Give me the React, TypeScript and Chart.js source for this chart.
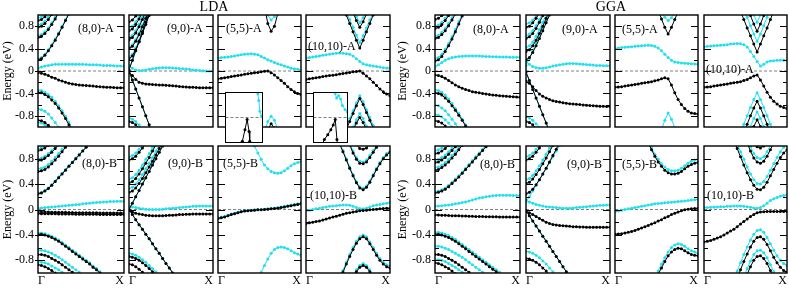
import React, { useEffect, useRef } from "react";
import { Chart, registerables } from "chart.js";

Chart.register(...registerables);

type Band = { c: "k" | "c"; from?: number; x?: number[]; y: number[] };

// k-point grid (Γ = 0, X = 1)
const K = [0, 0.04, 0.08, 0.12, 0.16, 0.2, 0.24, 0.28, 0.32, 0.36, 0.4, 0.44, 0.48, 0.52, 0.56, 0.6, 0.64, 0.68, 0.72, 0.76, 0.8, 0.84, 0.88, 0.92, 0.96, 1];
const Y_MAJOR = [-0.8, -0.4, 0, 0.4, 0.8];
const Y_MINOR = [-0.6, -0.2, 0.2, 0.6];
const Y_LABELS = ["-0.8", "-0.4", "0", "0.4", "0.8"];
const X_TICKS = [0, 1];
const X_LABELS = ["Γ", "X"];
const FERMI = 0;
const GROUP_TITLES = ["LDA", "GGA"];
const PANEL_NAMES = [
  ["(8,0)-A", "(9,0)-A", "(5,5)-A", "(10,10)-A"],
  ["(8,0)-B", "(9,0)-B", "(5,5)-B", "(10,10)-B"],
];

// ---------------- LDA ----------------
const LDA_80A: Band[] = [
  { c: "c", y: [0.05, 0.07, 0.09, 0.10, 0.11, 0.12, 0.12, 0.12, 0.12, 0.12, 0.12, 0.12, 0.12, 0.12, 0.115, 0.11, 0.11, 0.11, 0.105, 0.10, 0.10, 0.10, 0.095, 0.09, 0.09, 0.09] },
  { c: "k", y: [-0.03, -0.04, -0.06, -0.08, -0.11, -0.13, -0.16, -0.18, -0.20, -0.22, -0.23, -0.24, -0.25, -0.255, -0.26, -0.265, -0.27, -0.275, -0.28, -0.285, -0.29, -0.29, -0.295, -0.30, -0.30, -0.30] },
  { c: "k", y: [-0.38, -0.39, -0.42, -0.46, -0.52, -0.58, -0.66, -0.75, -0.85, -0.96, -1.08] },
  { c: "c", y: [-0.34, -0.35, -0.38, -0.42, -0.47, -0.54, -0.62, -0.71, -0.81, -0.92, -1.04] },
  { c: "c", y: [-0.68, -0.69, -0.72, -0.77, -0.84, -0.92, -1.01] },
  { c: "k", y: [-0.88, -0.89, -0.92, -0.97, -1.03] },
  { c: "c", y: [-0.92, -0.93, -0.96, -1.01] },
  { c: "k", y: [0.20, 0.22, 0.28, 0.36, 0.45, 0.55, 0.66, 0.78, 0.90, 1.02] },
  { c: "c", y: [0.22, 0.24, 0.30, 0.38, 0.47, 0.57, 0.68, 0.80, 0.92, 1.04] },
  { c: "k", y: [0.60, 0.62, 0.67, 0.74, 0.83, 0.93, 1.04] },
  { c: "c", y: [0.63, 0.65, 0.70, 0.77, 0.86, 0.96, 1.07] },
  { c: "k", y: [0.78, 0.80, 0.85, 0.92, 1.01] },
  { c: "c", y: [0.82, 0.84, 0.89, 0.96, 1.05] },
  { c: "k", y: [0.90, 0.92, 0.97, 1.04] },
  { c: "c", y: [0.95, 0.97, 1.02] },
];
const LDA_90A: Band[] = [
  { c: "c", y: [0.10, 0.05, 0.02, 0.01, 0.01, 0.02, 0.03, 0.04, 0.05, 0.055, 0.06, 0.06, 0.06, 0.055, 0.05, 0.045, 0.04, 0.035, 0.03, 0.02, 0.015, 0.01, 0.005, 0, 0, 0] },
  { c: "k", y: [-0.03, -0.08, -0.15, -0.20, -0.22, -0.23, -0.235, -0.24, -0.245, -0.25, -0.25, -0.255, -0.26, -0.265, -0.27, -0.275, -0.28, -0.285, -0.29, -0.29, -0.295, -0.30, -0.30, -0.30, -0.30, -0.30] },
  { c: "k", y: [0, -0.16, -0.32, -0.48, -0.64, -0.80, -0.96, -1.12] },
  { c: "c", y: [0, -0.16, -0.32, -0.48, -0.64, -0.80, -0.96, -1.12] },
  { c: "c", y: [0.02, 0.19, 0.36, 0.53, 0.70, 0.87, 1.04] },
  { c: "k", y: [0.02, 0.19, 0.36, 0.53, 0.70, 0.87, 1.04] },
  { c: "k", y: [0.22, 0.27, 0.38, 0.52, 0.67, 0.83, 0.99, 1.15] },
  { c: "c", y: [0.25, 0.30, 0.41, 0.55, 0.70, 0.86, 1.02] },
  { c: "k", y: [0.40, 0.44, 0.53, 0.65, 0.79, 0.94, 1.09] },
  { c: "c", y: [0.43, 0.47, 0.56, 0.68, 0.82, 0.97, 1.12] },
  { c: "k", y: [0.56, 0.60, 0.68, 0.79, 0.92, 1.06] },
  { c: "c", y: [0.60, 0.64, 0.72, 0.83, 0.96, 1.10] },
  { c: "k", y: [0.72, 0.75, 0.83, 0.93, 1.05] },
  { c: "c", y: [0.77, 0.80, 0.88, 0.98, 1.10] },
  { c: "k", y: [0.88, 0.91, 0.98, 1.08] },
  { c: "c", y: [-0.84, -0.86, -0.90, -0.96, -1.03] },
  { c: "k", y: [-0.90, -0.92, -0.96, -1.02] },
];
const LDA_55A: Band[] = [
  { c: "c", y: [0.23, 0.24, 0.245, 0.25, 0.26, 0.27, 0.28, 0.29, 0.30, 0.305, 0.31, 0.30, 0.29, 0.26, 0.23, 0.20, 0.18, 0.15, 0.13, 0.11, 0.09, 0.07, 0.05, 0.04, 0.03, 0.02] },
  { c: "k", y: [-0.14, -0.13, -0.12, -0.11, -0.10, -0.09, -0.08, -0.07, -0.06, -0.05, -0.04, -0.03, -0.025, -0.015, -0.005, 0, -0.03, -0.07, -0.12, -0.17, -0.22, -0.28, -0.33, -0.37, -0.40, -0.42] },
  { c: "k", from: 14, y: [1.15, 0.85, 0.71, 0.80, 1.02] },
  { c: "c", from: 14, y: [1.2, 1.0, 0.91, 0.97, 1.1] },
  { c: "c", from: 14, y: [-1.1, -0.9, -0.81, -0.88, -1.05] },
  { c: "k", from: 15, y: [-1.05, -0.94, -1.02] },
];
const LDA_1010A: Band[] = [
  { c: "c", y: [0.23, 0.24, 0.25, 0.26, 0.27, 0.28, 0.29, 0.30, 0.31, 0.315, 0.32, 0.315, 0.31, 0.30, 0.27, 0.22, 0.17, 0.13, 0.11, 0.10, 0.09, 0.08, 0.07, 0.06, 0.055, 0.05] },
  { c: "k", y: [-0.15, -0.14, -0.13, -0.12, -0.11, -0.10, -0.09, -0.08, -0.075, -0.065, -0.055, -0.045, -0.035, -0.025, -0.015, -0.01, 0, -0.04, -0.09, -0.14, -0.20, -0.26, -0.32, -0.37, -0.41, -0.44] },
  { c: "k", from: 12, y: [1.0, 0.85, 0.70, 0.55, 0.41, 0.55, 0.70, 0.85, 1.0] },
  { c: "c", from: 12, y: [1.06, 0.92, 0.78, 0.64, 0.51, 0.63, 0.77, 0.91, 1.05] },
  { c: "k", from: 14, y: [1.05, 0.90, 0.78, 0.88, 1.02] },
  { c: "c", from: 14, y: [1.1, 0.97, 0.86, 0.95, 1.08] },
  { c: "k", from: 12, y: [-1.05, -0.90, -0.76, -0.62, -0.49, -0.60, -0.74, -0.88, -1.02] },
  { c: "c", from: 12, y: [-1.0, -0.85, -0.71, -0.57, -0.44, -0.55, -0.69, -0.83, -0.97, -1.1] },
  { c: "k", from: 14, y: [-1.05, -0.93, -0.83, -0.92, -1.04] },
  { c: "c", from: 14, y: [-1.0, -0.87, -0.76, -0.85, -0.98] },
];
const LDA_80B: Band[] = [
  { c: "c", y: [0.02, 0.025, 0.03, 0.035, 0.04, 0.045, 0.05, 0.055, 0.06, 0.065, 0.07, 0.075, 0.08, 0.09, 0.095, 0.10, 0.105, 0.11, 0.115, 0.12, 0.12, 0.125, 0.125, 0.13, 0.13, 0.13] },
  { c: "k", y: [-0.04, -0.04, -0.04, -0.04, -0.042, -0.043, -0.045, -0.045, -0.045, -0.047, -0.048, -0.05, -0.05, -0.05, -0.051, -0.052, -0.053, -0.053, -0.054, -0.055, -0.055, -0.055, -0.055, -0.055, -0.055, -0.055] },
  { c: "k", y: [-0.065, -0.065, -0.065, -0.066, -0.067, -0.068, -0.07, -0.07, -0.07, -0.071, -0.072, -0.073, -0.073, -0.074, -0.075, -0.075, -0.076, -0.076, -0.077, -0.077, -0.078, -0.078, -0.078, -0.078, -0.078, -0.078] },
  { c: "k", y: [-0.39, -0.39, -0.40, -0.42, -0.44, -0.47, -0.50, -0.54, -0.58, -0.62, -0.66, -0.70, -0.74, -0.78, -0.82, -0.86, -0.91, -0.95, -1.0, -1.05] },
  { c: "c", y: [-0.37, -0.37, -0.38, -0.40, -0.42, -0.45, -0.48, -0.52, -0.56, -0.60, -0.64, -0.68, -0.72, -0.76, -0.80, -0.84, -0.89, -0.93, -0.98, -1.03] },
  { c: "c", y: [-0.64, -0.64, -0.65, -0.67, -0.69, -0.72, -0.75, -0.79, -0.83, -0.87, -0.91, -0.95, -0.99, -1.03] },
  { c: "k", y: [-0.71, -0.71, -0.72, -0.74, -0.77, -0.80, -0.83, -0.87, -0.91, -0.95, -0.99, -1.03] },
  { c: "c", y: [-0.82, -0.83, -0.84, -0.86, -0.89, -0.92, -0.95, -0.99, -1.03] },
  { c: "k", y: [-0.87, -0.88, -0.90, -0.93, -0.96, -1.0, -1.04] },
  { c: "c", y: [0.26, 0.27, 0.30, 0.34, 0.39, 0.45, 0.51, 0.57, 0.63, 0.69, 0.75, 0.81, 0.87, 0.93, 0.99, 1.05] },
  { c: "k", y: [0.25, 0.26, 0.29, 0.33, 0.38, 0.44, 0.50, 0.56, 0.62, 0.68, 0.74, 0.80, 0.86, 0.92, 0.98, 1.04] },
  { c: "k", y: [0.60, 0.61, 0.63, 0.67, 0.72, 0.78, 0.84, 0.91, 0.98, 1.05] },
  { c: "c", y: [0.64, 0.65, 0.67, 0.71, 0.76, 0.82, 0.88, 0.95, 1.02] },
  { c: "k", y: [0.77, 0.78, 0.81, 0.85, 0.90, 0.96, 1.02] },
  { c: "c", y: [0.80, 0.81, 0.84, 0.88, 0.93, 0.99, 1.05] },
  { c: "k", y: [0.93, 0.94, 0.97, 1.01] },
  { c: "c", y: [0.96, 0.97, 1.0, 1.04] },
];
const LDA_90B: Band[] = [
  { c: "c", y: [0.05, 0.04, 0.03, 0.02, 0.01, 0.005, 0, 0, 0, 0, 0.005, 0.01, 0.015, 0.02, 0.025, 0.03, 0.035, 0.04, 0.045, 0.05, 0.05, 0.055, 0.055, 0.055, 0.055, 0.055] },
  { c: "k", y: [-0.02, -0.04, -0.06, -0.07, -0.08, -0.09, -0.095, -0.10, -0.10, -0.10, -0.10, -0.095, -0.09, -0.09, -0.085, -0.08, -0.08, -0.075, -0.075, -0.07, -0.07, -0.07, -0.07, -0.07, -0.07, -0.07] },
  { c: "k", y: [0, -0.08, -0.16, -0.24, -0.31, -0.39, -0.46, -0.54, -0.62, -0.69, -0.77, -0.85, -0.92, -1.0, -1.08] },
  { c: "c", y: [0, -0.08, -0.16, -0.24, -0.31, -0.39, -0.46, -0.54, -0.62, -0.69, -0.77, -0.85, -0.92, -1.0, -1.08] },
  { c: "c", y: [0.0, 0.10, 0.20, 0.30, 0.40, 0.50, 0.60, 0.70, 0.80, 0.90, 1.0, 1.1] },
  { c: "k", y: [0.0, 0.10, 0.20, 0.30, 0.40, 0.50, 0.60, 0.70, 0.80, 0.90, 1.0, 1.1] },
  { c: "k", y: [0.27, 0.29, 0.34, 0.41, 0.49, 0.58, 0.67, 0.76, 0.86, 0.96, 1.06] },
  { c: "c", y: [0.33, 0.35, 0.40, 0.47, 0.55, 0.64, 0.73, 0.82, 0.92, 1.02] },
  { c: "k", y: [0.42, 0.44, 0.49, 0.56, 0.64, 0.73, 0.82, 0.92, 1.02] },
  { c: "c", y: [0.48, 0.50, 0.55, 0.62, 0.70, 0.79, 0.88, 0.98, 1.08] },
  { c: "k", y: [0.78, 0.80, 0.84, 0.90, 0.97, 1.05] },
  { c: "c", y: [0.83, 0.85, 0.89, 0.95, 1.02] },
  { c: "c", y: [-0.69, -0.70, -0.72, -0.75, -0.79, -0.83, -0.88, -0.93, -0.98, -1.03] },
  { c: "k", y: [-0.74, -0.75, -0.77, -0.80, -0.84, -0.88, -0.93, -0.98, -1.03] },
  { c: "k", y: [-0.86, -0.87, -0.90, -0.94, -0.99, -1.04] },
];
const LDA_55B: Band[] = [
  { c: "k", y: [-0.14, -0.13, -0.12, -0.10, -0.08, -0.065, -0.05, -0.035, -0.025, -0.02, -0.015, -0.01, -0.005, -0.005, 0, 0.005, 0.01, 0.015, 0.02, 0.03, 0.04, 0.05, 0.06, 0.07, 0.08, 0.09] },
  { c: "c", y: [-0.13, -0.12, -0.11, -0.09, -0.07, -0.06, -0.045, -0.03, -0.02, -0.015, -0.01, -0.005, 0, 0, 0.005, 0.01, 0.015, 0.02, 0.03, 0.04, 0.05, 0.06, 0.07, 0.08, 0.09, 0.10] },
  { c: "c", from: 10, y: [1.12, 1.0, 0.89, 0.79, 0.70, 0.64, 0.60, 0.58, 0.57, 0.58, 0.61, 0.65, 0.69, 0.72, 0.74, 0.75] },
  { c: "c", from: 12, y: [-1.08, -0.99, -0.88, -0.78, -0.69, -0.63, -0.60, -0.59, -0.60, -0.62, -0.65, -0.68, -0.70, -0.72] },
];
const LDA_1010B: Band[] = [
  { c: "c", y: [-0.02, -0.01, 0, 0.01, 0.02, 0.03, 0.04, 0.05, 0.055, 0.06, 0.065, 0.07, 0.07, 0.065, 0.05, 0.03, 0.015, 0.01, 0.02, 0.04, 0.06, 0.07, 0.08, 0.09, 0.10, 0.11] },
  { c: "k", y: [-0.22, -0.21, -0.20, -0.19, -0.18, -0.165, -0.15, -0.135, -0.12, -0.105, -0.09, -0.075, -0.06, -0.05, -0.04, -0.03, -0.02, -0.015, -0.01, -0.005, 0, 0.005, 0.01, 0.015, 0.02, 0.02] },
  { c: "c", from: 10, y: [1.05, 0.93, 0.80, 0.67, 0.55, 0.44, 0.36, 0.33, 0.37, 0.45, 0.55, 0.65, 0.74, 0.82, 0.88, 0.92] },
  { c: "k", from: 10, y: [1.03, 0.91, 0.78, 0.65, 0.53, 0.42, 0.34, 0.31, 0.35, 0.43, 0.53, 0.63, 0.72, 0.80, 0.86, 0.90] },
  { c: "c", from: 13, y: [1.05, 0.92, 0.82, 0.76, 0.75, 0.78, 0.85, 0.93, 1.01] },
  { c: "k", from: 13, y: [1.02, 0.89, 0.79, 0.73, 0.72, 0.75, 0.82, 0.90, 0.98, 1.06] },
  { c: "k", from: 15, y: [1.02, 0.96, 0.95, 0.97, 1.03] },
  { c: "c", from: 10, y: [-1.08, -0.96, -0.83, -0.71, -0.60, -0.50, -0.43, -0.40, -0.43, -0.51, -0.60, -0.69, -0.77, -0.83, -0.87, -0.89] },
  { c: "k", from: 10, y: [-1.11, -0.99, -0.86, -0.74, -0.63, -0.53, -0.46, -0.43, -0.46, -0.54, -0.63, -0.72, -0.80, -0.86, -0.90, -0.92] },
  { c: "c", from: 14, y: [-1.05, -0.95, -0.88, -0.85, -0.88, -0.95, -1.03] },
  { c: "k", from: 14, y: [-1.08, -0.98, -0.91, -0.88, -0.91, -0.98, -1.06] },
];

// ---------------- GGA ----------------
const GGA_80A: Band[] = [
  { c: "c", y: [0.08, 0.11, 0.15, 0.19, 0.22, 0.24, 0.25, 0.26, 0.265, 0.27, 0.27, 0.27, 0.27, 0.27, 0.265, 0.26, 0.26, 0.255, 0.255, 0.25, 0.25, 0.25, 0.245, 0.245, 0.245, 0.245] },
  { c: "k", y: [-0.07, -0.08, -0.10, -0.13, -0.17, -0.21, -0.25, -0.28, -0.31, -0.33, -0.35, -0.37, -0.38, -0.39, -0.40, -0.41, -0.42, -0.43, -0.435, -0.44, -0.445, -0.45, -0.455, -0.46, -0.465, -0.47] },
  { c: "k", y: [-0.39, -0.40, -0.43, -0.48, -0.54, -0.62, -0.70, -0.79, -0.88, -0.98, -1.08] },
  { c: "c", y: [-0.34, -0.35, -0.38, -0.43, -0.50, -0.58, -0.67, -0.76, -0.86, -0.96, -1.06] },
  { c: "c", y: [-0.61, -0.62, -0.66, -0.71, -0.78, -0.86, -0.94, -1.03] },
  { c: "c", y: [-0.78, -0.79, -0.82, -0.87, -0.93, -1.0] },
  { c: "k", y: [-0.89, -0.90, -0.93, -0.98, -1.04] },
  { c: "k", y: [0.18, 0.20, 0.26, 0.35, 0.45, 0.57, 0.70, 0.84, 0.98, 1.12] },
  { c: "c", y: [0.22, 0.24, 0.30, 0.39, 0.49, 0.61, 0.74, 0.88, 1.02] },
  { c: "k", y: [0.58, 0.60, 0.65, 0.72, 0.81, 0.91, 1.02] },
  { c: "c", y: [0.62, 0.64, 0.69, 0.76, 0.85, 0.95, 1.06] },
  { c: "k", y: [0.76, 0.78, 0.83, 0.90, 0.99, 1.09] },
  { c: "c", y: [0.80, 0.82, 0.87, 0.94, 1.03] },
  { c: "k", y: [0.92, 0.94, 0.99, 1.06] },
];
const GGA_90A: Band[] = [
  { c: "c", y: [0.17, 0.12, 0.08, 0.06, 0.05, 0.05, 0.06, 0.07, 0.09, 0.10, 0.11, 0.12, 0.13, 0.135, 0.135, 0.13, 0.125, 0.12, 0.115, 0.11, 0.105, 0.10, 0.10, 0.095, 0.095, 0.095] },
  { c: "k", y: [-0.18, -0.22, -0.28, -0.35, -0.41, -0.45, -0.48, -0.51, -0.53, -0.545, -0.555, -0.565, -0.575, -0.585, -0.59, -0.595, -0.60, -0.605, -0.61, -0.615, -0.62, -0.625, -0.63, -0.63, -0.635, -0.635] },
  { c: "k", y: [-0.02, -0.17, -0.33, -0.48, -0.63, -0.78, -0.93, -1.08] },
  { c: "c", y: [-0.02, -0.17, -0.33, -0.48, -0.63, -0.78, -0.93, -1.08] },
  { c: "c", y: [0.10, 0.22, 0.36, 0.50, 0.64, 0.78, 0.92, 1.06] },
  { c: "k", y: [0.20, 0.24, 0.33, 0.45, 0.58, 0.72, 0.86, 1.0, 1.14] },
  { c: "k", y: [0.35, 0.38, 0.45, 0.55, 0.67, 0.80, 0.94, 1.08] },
  { c: "c", y: [0.42, 0.45, 0.52, 0.62, 0.74, 0.87, 1.01] },
  { c: "k", y: [0.58, 0.61, 0.67, 0.76, 0.87, 0.99, 1.11] },
  { c: "c", y: [0.63, 0.66, 0.72, 0.81, 0.92, 1.04] },
  { c: "k", y: [0.78, 0.80, 0.86, 0.94, 1.04] },
  { c: "c", y: [0.84, 0.86, 0.91, 0.99, 1.08] },
  { c: "c", y: [-0.82, -0.84, -0.88, -0.94, -1.01] },
  { c: "k", y: [-0.90, -0.92, -0.96, -1.02] },
];
const GGA_55A: Band[] = [
  { c: "c", y: [0.40, 0.41, 0.42, 0.425, 0.43, 0.435, 0.44, 0.445, 0.45, 0.455, 0.46, 0.455, 0.44, 0.41, 0.36, 0.30, 0.24, 0.19, 0.16, 0.15, 0.145, 0.14, 0.135, 0.13, 0.125, 0.12] },
  { c: "k", y: [-0.29, -0.285, -0.28, -0.27, -0.26, -0.25, -0.24, -0.23, -0.22, -0.21, -0.20, -0.19, -0.175, -0.16, -0.14, -0.12, -0.14, -0.25, -0.39, -0.51, -0.60, -0.67, -0.72, -0.75, -0.76, -0.77] },
  { c: "k", from: 13, y: [1.1, 0.93, 0.78, 0.66, 0.78, 0.92, 1.06] },
  { c: "c", from: 14, y: [1.06, 0.96, 0.90, 0.95, 1.04] },
  { c: "c", from: 14, y: [-1.05, -0.88, -0.75, -0.86, -1.02] },
];
const GGA_1010A: Band[] = [
  { c: "c", y: [0.43, 0.44, 0.445, 0.45, 0.455, 0.46, 0.465, 0.47, 0.48, 0.485, 0.49, 0.485, 0.47, 0.43, 0.35, 0.26, 0.17, 0.09, 0.12, 0.16, 0.18, 0.185, 0.19, 0.19, 0.19, 0.19] },
  { c: "k", y: [-0.29, -0.285, -0.28, -0.27, -0.26, -0.25, -0.24, -0.23, -0.22, -0.21, -0.20, -0.19, -0.17, -0.15, -0.12, -0.09, -0.07, -0.16, -0.27, -0.38, -0.47, -0.54, -0.59, -0.63, -0.65, -0.67] },
  { c: "k", from: 11, y: [1.07, 0.92, 0.77, 0.63, 0.48, 0.34, 0.48, 0.63, 0.77, 0.92, 1.07] },
  { c: "c", from: 12, y: [1.1, 0.96, 0.81, 0.66, 0.53, 0.66, 0.81, 0.96, 1.1] },
  { c: "k", from: 13, y: [1.14, 0.99, 0.84, 0.71, 0.84, 0.99, 1.14] },
  { c: "c", from: 14, y: [1.15, 1.0, 0.87, 1.0, 1.15] },
  { c: "c", from: 11, y: [-1.1, -0.95, -0.80, -0.65, -0.51, -0.39, -0.51, -0.65, -0.80, -0.95, -1.1] },
  { c: "k", from: 12, y: [-1.1, -0.95, -0.80, -0.66, -0.54, -0.66, -0.80, -0.95, -1.1] },
  { c: "c", from: 13, y: [-1.14, -0.99, -0.85, -0.73, -0.85, -0.99, -1.14] },
  { c: "k", from: 14, y: [-1.13, -0.99, -0.87, -0.99, -1.13] },
];
const GGA_80B: Band[] = [
  { c: "c", y: [0.055, 0.055, 0.06, 0.065, 0.07, 0.08, 0.09, 0.10, 0.11, 0.12, 0.135, 0.15, 0.165, 0.18, 0.19, 0.20, 0.21, 0.215, 0.22, 0.225, 0.225, 0.225, 0.225, 0.22, 0.22, 0.215] },
  { c: "k", y: [-0.085, -0.087, -0.09, -0.092, -0.095, -0.097, -0.10, -0.10, -0.102, -0.104, -0.106, -0.108, -0.11, -0.11, -0.112, -0.113, -0.114, -0.115, -0.116, -0.117, -0.118, -0.119, -0.12, -0.12, -0.12, -0.12] },
  { c: "k", y: [-0.39, -0.39, -0.40, -0.42, -0.44, -0.47, -0.50, -0.54, -0.58, -0.62, -0.66, -0.70, -0.74, -0.78, -0.82, -0.86, -0.90, -0.94, -0.98, -1.02] },
  { c: "c", y: [-0.36, -0.36, -0.37, -0.39, -0.41, -0.44, -0.47, -0.51, -0.55, -0.59, -0.63, -0.67, -0.71, -0.75, -0.79, -0.83, -0.87, -0.91, -0.95, -0.99, -1.03] },
  { c: "c", y: [-0.58, -0.58, -0.59, -0.61, -0.63, -0.66, -0.69, -0.72, -0.75, -0.79, -0.83, -0.87, -0.91, -0.95, -0.99, -1.03] },
  { c: "k", y: [-0.71, -0.71, -0.72, -0.74, -0.77, -0.80, -0.83, -0.87, -0.91, -0.95, -0.99, -1.03] },
  { c: "c", y: [-0.79, -0.79, -0.80, -0.82, -0.85, -0.88, -0.91, -0.95, -0.99, -1.03] },
  { c: "k", y: [-0.84, -0.85, -0.87, -0.90, -0.93, -0.97, -1.01] },
  { c: "c", y: [0.28, 0.29, 0.31, 0.34, 0.38, 0.43, 0.48, 0.53, 0.59, 0.65, 0.71, 0.77, 0.83, 0.89, 0.95, 1.01] },
  { c: "k", y: [0.26, 0.27, 0.29, 0.32, 0.36, 0.41, 0.46, 0.51, 0.57, 0.63, 0.69, 0.75, 0.81, 0.87, 0.93, 0.99, 1.05] },
  { c: "k", y: [0.62, 0.63, 0.66, 0.70, 0.75, 0.81, 0.87, 0.94, 1.01] },
  { c: "c", y: [0.66, 0.67, 0.70, 0.74, 0.79, 0.85, 0.91, 0.98, 1.05] },
  { c: "k", y: [0.74, 0.75, 0.78, 0.82, 0.87, 0.93, 0.99, 1.06] },
  { c: "c", y: [0.78, 0.79, 0.82, 0.86, 0.91, 0.97, 1.03] },
  { c: "k", y: [0.88, 0.89, 0.92, 0.96, 1.01] },
  { c: "c", y: [0.93, 0.94, 0.97, 1.01] },
];
const GGA_90B: Band[] = [
  { c: "c", y: [0.15, 0.12, 0.10, 0.08, 0.065, 0.055, 0.045, 0.04, 0.035, 0.03, 0.025, 0.02, 0.02, 0.02, 0.025, 0.03, 0.035, 0.04, 0.045, 0.05, 0.055, 0.06, 0.065, 0.065, 0.07, 0.07] },
  { c: "k", y: [-0.03, -0.05, -0.08, -0.11, -0.14, -0.17, -0.20, -0.22, -0.235, -0.245, -0.25, -0.255, -0.26, -0.265, -0.27, -0.27, -0.275, -0.275, -0.28, -0.28, -0.28, -0.28, -0.28, -0.28, -0.28, -0.28] },
  { c: "k", y: [-0.02, -0.10, -0.18, -0.26, -0.34, -0.42, -0.50, -0.58, -0.66, -0.74, -0.82, -0.90, -0.98, -1.06] },
  { c: "c", y: [-0.02, -0.10, -0.18, -0.26, -0.34, -0.42, -0.50, -0.58, -0.66, -0.74, -0.82, -0.90, -0.98, -1.06] },
  { c: "c", y: [0.12, 0.20, 0.29, 0.38, 0.47, 0.56, 0.65, 0.74, 0.83, 0.92, 1.01] },
  { c: "k", y: [0.25, 0.27, 0.32, 0.39, 0.47, 0.56, 0.65, 0.75, 0.85, 0.95, 1.05] },
  { c: "k", y: [0.41, 0.43, 0.48, 0.55, 0.63, 0.72, 0.81, 0.91, 1.01] },
  { c: "c", y: [0.47, 0.49, 0.54, 0.61, 0.69, 0.78, 0.87, 0.97, 1.07] },
  { c: "k", y: [0.78, 0.80, 0.84, 0.90, 0.97, 1.05] },
  { c: "c", y: [0.83, 0.85, 0.89, 0.95, 1.02] },
  { c: "c", y: [-0.66, -0.67, -0.69, -0.72, -0.76, -0.81, -0.86, -0.92, -0.98, -1.04] },
  { c: "k", y: [-0.77, -0.78, -0.80, -0.83, -0.87, -0.92, -0.97, -1.03] },
];
const GGA_55B: Band[] = [
  { c: "c", y: [-0.035, -0.025, -0.01, 0, 0.01, 0.02, 0.03, 0.04, 0.05, 0.06, 0.07, 0.08, 0.09, 0.095, 0.10, 0.105, 0.11, 0.115, 0.12, 0.125, 0.13, 0.135, 0.14, 0.15, 0.155, 0.16] },
  { c: "k", y: [-0.39, -0.385, -0.38, -0.37, -0.36, -0.345, -0.33, -0.31, -0.29, -0.27, -0.25, -0.23, -0.21, -0.18, -0.16, -0.13, -0.11, -0.08, -0.06, -0.04, -0.02, -0.005, 0.005, 0.01, 0.015, 0.02] },
  { c: "c", from: 10, y: [1.08, 0.97, 0.87, 0.79, 0.72, 0.67, 0.63, 0.61, 0.61, 0.62, 0.65, 0.69, 0.73, 0.76, 0.78, 0.79] },
  { c: "k", from: 10, y: [1.05, 0.94, 0.84, 0.75, 0.68, 0.62, 0.58, 0.56, 0.56, 0.57, 0.60, 0.64, 0.68, 0.71, 0.73, 0.74] },
  { c: "c", from: 12, y: [-1.07, -0.97, -0.86, -0.76, -0.67, -0.60, -0.56, -0.54, -0.55, -0.58, -0.62, -0.65, -0.67, -0.69] },
  { c: "k", from: 12, y: [-1.12, -1.02, -0.92, -0.82, -0.73, -0.67, -0.63, -0.61, -0.62, -0.65, -0.68, -0.71, -0.72, -0.73] },
];
const GGA_1010B: Band[] = [
  { c: "c", y: [0.03, 0.03, 0.035, 0.04, 0.04, 0.045, 0.045, 0.05, 0.05, 0.055, 0.055, 0.055, 0.05, 0.045, 0.035, 0.025, 0.02, 0.03, 0.06, 0.10, 0.14, 0.17, 0.19, 0.21, 0.22, 0.23] },
  { c: "k", y: [-0.51, -0.50, -0.49, -0.47, -0.45, -0.43, -0.40, -0.37, -0.34, -0.31, -0.27, -0.23, -0.19, -0.15, -0.11, -0.08, -0.05, -0.04, -0.035, -0.03, -0.03, -0.03, -0.03, -0.03, -0.03, -0.03] },
  { c: "k", from: 9, y: [1.08, 0.96, 0.83, 0.70, 0.58, 0.47, 0.38, 0.32, 0.31, 0.35, 0.43, 0.53, 0.63, 0.73, 0.82, 0.89, 0.94] },
  { c: "c", from: 10, y: [1.04, 0.91, 0.79, 0.67, 0.56, 0.47, 0.41, 0.40, 0.44, 0.52, 0.62, 0.72, 0.82, 0.91, 0.98, 1.03] },
  { c: "k", from: 13, y: [1.05, 0.92, 0.81, 0.75, 0.73, 0.76, 0.84, 0.94, 1.05] },
  { c: "c", from: 13, y: [1.12, 0.99, 0.88, 0.82, 0.80, 0.83, 0.91, 1.01] },
  { c: "k", from: 15, y: [1.06, 0.99, 0.97, 1.0, 1.08] },
  { c: "c", from: 9, y: [-1.1, -0.97, -0.84, -0.71, -0.59, -0.48, -0.39, -0.33, -0.32, -0.36, -0.44, -0.54, -0.64, -0.73, -0.80, -0.85, -0.88] },
  { c: "k", from: 10, y: [-1.08, -0.95, -0.82, -0.70, -0.59, -0.50, -0.44, -0.43, -0.47, -0.55, -0.65, -0.75, -0.84, -0.91, -0.96, -0.99] },
  { c: "c", from: 12, y: [-1.06, -0.93, -0.81, -0.71, -0.65, -0.64, -0.68, -0.76, -0.87, -0.98, -1.09] },
  { c: "k", from: 13, y: [-1.02, -0.90, -0.80, -0.74, -0.73, -0.77, -0.85, -0.96, -1.07] },
];

// insets (zoomed views near the Fermi level, normalised axes)
const INSET_55A: Band[] = [
  { c: "k", x: [0.40, 0.456, 0.526, 0.585, 0.637, 0.655, 0.68], y: [-1.3, -0.95, -0.49, -0.08, -0.56, -0.95, -1.35] },
  { c: "c", x: [0.86, 0.875, 0.90, 0.93, 0.975, 1.0], y: [1.1, 0.95, 0.68, 0.25, 0.06, 0.03] },
];
const INSET_1010A: Band[] = [
  { c: "k", x: [0.25, 0.32, 0.42, 0.51, 0.58, 0.64, 0.69, 0.72], y: [-1.1, -0.88, -0.69, -0.49, -0.30, -0.08, -0.88, -1.4] },
  { c: "c", x: [0.63, 0.64, 0.68, 0.74, 0.80, 0.85, 0.93, 1.0], y: [1.1, 0.96, 0.78, 0.87, 0.74, 0.48, 0.31, 0.22] },
];

const GROUP_BANDS: Band[][][][] = [
  [[LDA_80A, LDA_90A, LDA_55A, LDA_1010A], [LDA_80B, LDA_90B, LDA_55B, LDA_1010B]],
  [[GGA_80A, GGA_90A, GGA_55A, GGA_1010A], [GGA_80B, GGA_90B, GGA_55B, GGA_1010B]],
];

// ---------------- layout / style ----------------
const COL_LEFTS = [[38, 127, 216, 304], [435, 524, 613, 702]];
const COL_WIDTHS = [[86, 86, 85, 86], [85, 86, 85, 85]];
const ROW_TOPS = [15, 146];
const ROW_HEIGHTS = [128, 127];
const GROUP_MARGIN = [38, 40];
const GROUP_CENTERS = [214, 611];
const LABEL_POS = [
  [[[78, 28], [167, 28], [226, 28], [308, 46]], [[82, 163], [168, 163], [223, 163], [310, 195]]],
  [[[473, 29], [562, 29], [622, 29], [706, 69]], [[480, 164], [567, 164], [622, 164], [707, 195]]],
];
const INSETS = [
  { left: 225, top: 92, w: 38, h: 51, bands: INSET_55A },
  { left: 313, top: 92, w: 35, h: 51, bands: INSET_1010A },
];

const CYAN = "#22dfec";
const BLACK = "#000000";
const DASH = "#808080";
const FONT = "'Liberation Serif', 'Times New Roman', serif";

const framePlugin = {
  id: "panelFrame",
  beforeDatasetsDraw(chart: any, _args: any, opts: any) {
    if (!opts || !opts.fill) return;
    const a = chart.chartArea;
    const ctx = chart.ctx;
    ctx.save();
    ctx.fillStyle = "#ffffff";
    ctx.fillRect(a.left, a.top, a.right - a.left, a.bottom - a.top);
    ctx.restore();
  },
  afterDatasetsDraw(chart: any, _args: any, opts: any) {
    const a = chart.chartArea;
    const ctx = chart.ctx;
    const ys = chart.scales.y;
    ctx.save();
    ctx.strokeStyle = "#000";
    if (opts && opts.ticks) {
      ctx.lineWidth = 1;
      ctx.beginPath();
      const tick = (v: number, len: number, out: number) => {
        const py = Math.round(ys.getPixelForValue(v)) + 0.5;
        ctx.moveTo(a.left - out, py);
        ctx.lineTo(a.left + len, py);
        ctx.moveTo(a.right, py);
        ctx.lineTo(a.right - len, py);
      };
      Y_MAJOR.forEach((v) => tick(v, 7, opts.outer ? 3 : 0));
      Y_MINOR.forEach((v) => tick(v, 4, 0));
      ctx.stroke();
    }
    ctx.lineWidth = opts && opts.ticks ? 1.4 : 1;
    ctx.strokeRect(a.left, a.top, a.right - a.left, a.bottom - a.top);
    ctx.restore();
  },
};

function makeDatasets(bands: Band[]) {
  const toDs = (b: Band) => {
    const col = b.c === "k" ? BLACK : CYAN;
    const from = b.from ?? 0;
    const data = b.y
      .map((v, i) => ({ x: b.x ? b.x[i] : K[from + i], y: v }))
      .filter((p) => p.x !== undefined);
    return {
      data,
      borderColor: col,
      backgroundColor: col,
      pointBackgroundColor: col,
      pointBorderWidth: 0,
      pointRadius: 1.5,
      pointHoverRadius: 0,
      borderWidth: 1,
      tension: 0,
      fill: false,
    };
  };
  const blacks = bands.filter((b) => b.c === "k").map(toDs);
  const cyans = bands.filter((b) => b.c === "c").map(toDs);
  const zero = {
    data: [
      { x: X_TICKS[0], y: FERMI },
      { x: X_TICKS[1], y: FERMI },
    ],
    borderColor: DASH,
    borderDash: [3, 2],
    borderWidth: 1,
    pointRadius: 0,
    fill: false,
  };
  // first dataset is drawn on top in Chart.js
  return [...blacks, ...cyans, zero];
}

function panelConfig(bands: Band[], o: { showY: boolean; showX: boolean; mL: number; outer: boolean }) {
  const font = { family: FONT, size: 12 };
  return {
    type: "line",
    data: { datasets: makeDatasets(bands) },
    plugins: [framePlugin],
    options: {
      responsive: false,
      maintainAspectRatio: false,
      animation: false,
      devicePixelRatio: 1,
      events: [],
      layout: { padding: { left: o.showY ? 0 : 2, right: 2, top: 2, bottom: o.showX ? 0 : 2 } },
      plugins: {
        legend: { display: false },
        tooltip: { enabled: false },
        panelFrame: { ticks: true, outer: o.outer, fill: false },
      },
      scales: {
        x: {
          type: "linear",
          min: 0,
          max: 1,
          display: o.showX,
          afterBuildTicks: (ax: any) => {
            ax.ticks = X_TICKS.map((value) => ({ value }));
          },
          afterFit: (ax: any) => {
            ax.height = 16;
            ax.paddingLeft = 0;
            ax.paddingRight = 0;
            ax.paddingTop = 0;
            ax.paddingBottom = 0;
          },
          grid: { display: false, drawTicks: false },
          border: { display: false },
          ticks: {
            align: "inner",
            padding: 1,
            maxRotation: 0,
            autoSkip: false,
            color: "#000",
            font,
            callback: (_v: any, i: number) => X_LABELS[i],
          },
        },
        y: {
          type: "linear",
          min: -1,
          max: 1,
          display: o.showY,
          afterBuildTicks: (ax: any) => {
            ax.ticks = Y_MAJOR.map((value) => ({ value }));
          },
          afterFit: (ax: any) => {
            ax.width = o.mL;
            ax.paddingLeft = 0;
            ax.paddingRight = 0;
            ax.paddingTop = 0;
            ax.paddingBottom = 0;
          },
          grid: { display: false, drawTicks: false },
          border: { display: false },
          ticks: {
            padding: 4,
            autoSkip: false,
            color: "#000",
            font,
            callback: (_v: any, i: number) => Y_LABELS[i],
          },
          title: {
            display: true,
            text: "Energy (eV)",
            color: "#000",
            font,
            padding: { top: 1, bottom: 0 },
          },
        },
      },
    },
  };
}

function insetConfig(bands: Band[]) {
  return {
    type: "line",
    data: { datasets: makeDatasets(bands) },
    plugins: [framePlugin],
    options: {
      responsive: false,
      maintainAspectRatio: false,
      animation: false,
      devicePixelRatio: 1,
      events: [],
      layout: { padding: 1 },
      plugins: {
        legend: { display: false },
        tooltip: { enabled: false },
        panelFrame: { ticks: false, outer: false, fill: true },
      },
      scales: {
        x: { type: "linear", min: 0, max: 1, display: false },
        y: { type: "linear", min: -1, max: 1, display: false },
      },
    },
  };
}

function ChartCanvas(props: { left: number; top: number; width: number; height: number; make: () => any }) {
  const ref = useRef<HTMLCanvasElement>(null);
  useEffect(() => {
    const chart = new Chart(ref.current as HTMLCanvasElement, props.make());
    return () => chart.destroy();
  }, []);
  return (
    <canvas
      ref={ref}
      width={props.width}
      height={props.height}
      style={{ position: "absolute", left: props.left, top: props.top, width: props.width, height: props.height }}
    />
  );
}

export default function App() {
  const items: any[] = [];
  const labels: any[] = [];
  GROUP_BANDS.forEach((rows, g) =>
    rows.forEach((cols, r) =>
      cols.forEach((bands, c) => {
        const left = COL_LEFTS[g][c];
        const w = COL_WIDTHS[g][c];
        const top = ROW_TOPS[r];
        const h = ROW_HEIGHTS[r];
        const showY = c === 0;
        const showX = r === 1;
        const mL = showY ? GROUP_MARGIN[g] : 2;
        const mB = showX ? 16 : 2;
        items.push(
          <ChartCanvas
            key={`p-${g}-${r}-${c}`}
            left={left - mL}
            top={top - 2}
            width={mL + w + 2}
            height={h + 2 + mB}
            make={() => panelConfig(bands, { showY, showX, mL, outer: showY })}
          />
        );
        const [lx, ly] = LABEL_POS[g][r][c];
        labels.push(
          <div
            key={`l-${g}-${r}-${c}`}
            style={{ position: "absolute", left: lx, top: ly - 7, font: `12px ${FONT}`, lineHeight: "14px", whiteSpace: "nowrap", color: "#000" }}
          >
            {PANEL_NAMES[r][c]}
          </div>
        );
      })
    )
  );
  INSETS.forEach((ins, i) => {
    items.push(
      <ChartCanvas
        key={`inset-${i}`}
        left={ins.left - 1}
        top={ins.top - 1}
        width={ins.w + 2}
        height={ins.h + 2}
        make={() => insetConfig(ins.bands)}
      />
    );
  });
  return (
    <div style={{ position: "absolute", left: 0, top: 0, width: 789, height: 288, background: "#fff", overflow: "hidden" }}>
      {items}
      {labels}
      {GROUP_TITLES.map((t, g) => (
        <div
          key={`t-${g}`}
          style={{ position: "absolute", left: GROUP_CENTERS[g] - 50, width: 100, top: 0, textAlign: "center", font: `14px ${FONT}`, lineHeight: "14px", color: "#000" }}
        >
          {t}
        </div>
      ))}
    </div>
  );
}
